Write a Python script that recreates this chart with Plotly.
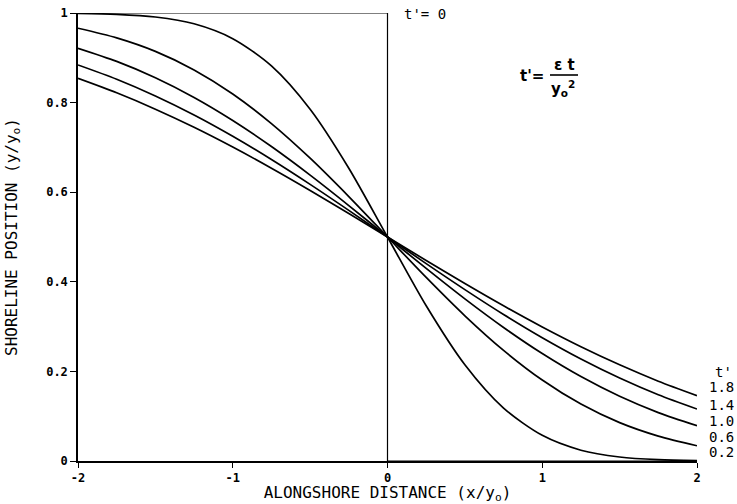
import plotly.graph_objects as go

# x positions (x / y0)
x_vals = [-2.0, -1.75, -1.5, -1.25, -1.0, -0.75, -0.5, -0.25, 0.0,
          0.25, 0.5, 0.75, 1.0, 1.25, 1.5, 1.75, 2.0]

# shoreline position y/y0 for each t'
y_t02 = [0.9992, 0.9971, 0.9911, 0.9759, 0.9428, 0.8820, 0.7853, 0.6536, 0.5,
         0.3464, 0.2147, 0.1180, 0.0572, 0.0241, 0.0089, 0.0029, 0.0008]
y_t06 = [0.9660, 0.9445, 0.9144, 0.8730, 0.8193, 0.7531, 0.6758, 0.5902, 0.5,
         0.4098, 0.3242, 0.2469, 0.1807, 0.1270, 0.0856, 0.0555, 0.0340]
y_t10 = [0.9213, 0.8920, 0.8556, 0.8116, 0.7602, 0.7020, 0.6382, 0.5702, 0.5,
         0.4298, 0.3618, 0.2980, 0.2398, 0.1884, 0.1444, 0.1080, 0.0787]
y_t14 = [0.8840, 0.8521, 0.8148, 0.7723, 0.7248, 0.6729, 0.6174, 0.5594, 0.5,
         0.4406, 0.3826, 0.3271, 0.2752, 0.2277, 0.1852, 0.1479, 0.1160]
y_t18 = [0.8540, 0.8218, 0.7853, 0.7449, 0.7008, 0.6536, 0.6039, 0.5524, 0.5,
         0.4476, 0.3961, 0.3464, 0.2992, 0.2551, 0.2147, 0.1782, 0.1460]

series = [("0.2", y_t02), ("0.6", y_t06), ("1.0", y_t10), ("1.4", y_t14), ("1.8", y_t18)]
curve_labels = ["t'", "1.8", "1.4", "1.0", "0.6", "0.2"]

# t' = 0 initial step shoreline
step_x = [-2, 0, 0, 2]
step_y = [1, 1, 0, 0]

x_ticks = [-2, -1, 0, 1, 2]
x_ticklabels = ["-2", "-1", "0", "1", "2"]
y_ticks = [0, 0.2, 0.4, 0.6, 0.8, 1]
y_ticklabels = ["0", "0.2", "0.4", "0.6", "0.8", "1"]

# layout geometry (pixels)
W, H = 737, 504
ML, MR, MT, MB = 78, 40, 13, 43
PW, PH = W - ML - MR, H - MT - MB


def px(xp):
    return (xp - ML) / PW


def py(yp):
    return (H - MB - yp) / PH


fig = go.Figure()
fig.add_trace(go.Scatter(x=step_x, y=step_y, mode="lines",
                         line=dict(color="black", width=1.2), showlegend=False))
for name, ys in series:
    fig.add_trace(go.Scatter(x=x_vals, y=ys, mode="lines", name=name,
                             line=dict(color="black", width=1.7, shape="spline", smoothing=0.8),
                             showlegend=False))

tick_font = dict(family="DejaVu Sans Mono", size=12, color="black", weight="bold")
title_font = dict(family="DejaVu Sans Mono", size=16, color="black")

fig.update_layout(
    width=W, height=H,
    margin=dict(l=ML, r=MR, t=MT, b=MB),
    plot_bgcolor="white", paper_bgcolor="white",
    xaxis=dict(range=[-2, 2], tickvals=x_ticks, ticktext=x_ticklabels, automargin=False,
               showline=True, linecolor="black", linewidth=1.5, showgrid=False, zeroline=False,
               ticks="outside", ticklen=5, tickcolor="black", tickfont=tick_font,
               title=dict(text="ALONGSHORE DISTANCE (x/y<sub>o</sub>)", font=title_font, standoff=6)),
    yaxis=dict(range=[0, 1], tickvals=y_ticks, ticktext=y_ticklabels, automargin=False,
               showline=True, linecolor="black", linewidth=1.5, showgrid=False, zeroline=False,
               ticks="outside", ticklen=6, tickcolor="black", tickfont=tick_font,
               title=dict(text="SHORELINE POSITION (y/y<sub>o</sub>)", font=title_font, standoff=25)),
)

label_font = dict(family="DejaVu Sans Mono", size=14, color="black")
ann = []
ann.append(dict(xref="paper", yref="paper", x=px(402), y=py(14), text="t'= 0", showarrow=False,
                xanchor="left", yanchor="middle", font=label_font))
# right-hand curve labels
label_y_px = [372, 387, 405, 421, 437, 452]
for txt, yp in zip(curve_labels, label_y_px):
    xl = 713 if txt == "t'" else 707
    ann.append(dict(xref="paper", yref="paper", x=px(xl), y=py(yp), text=txt, showarrow=False,
                    xanchor="left", yanchor="middle", font=label_font))
# formula t' = eps t / y0^2
ffont = dict(family="DejaVu Sans", size=15, color="black", weight="bold")
ann.append(dict(xref="paper", yref="paper", x=px(532), y=py(76), text="t'=",
                showarrow=False, xanchor="center", yanchor="middle", font=ffont))
ann.append(dict(xref="paper", yref="paper", x=px(564), y=py(65), text="ε t",
                showarrow=False, xanchor="center", yanchor="middle", font=ffont))
ann.append(dict(xref="paper", yref="paper", x=px(563), y=py(88),
                text="y<sub>o</sub><sup>2</sup>",
                showarrow=False, xanchor="center", yanchor="middle", font=ffont))
fig.update_layout(annotations=ann)
fig.add_shape(type="line", xref="paper", yref="paper",
              x0=px(550), x1=px(578), y0=py(75), y1=py(75),
              line=dict(color="black", width=1.6))

fig.write_html("out.html", config={"displayModeBar": False},
               post_script="document.body.style.margin='0';")
